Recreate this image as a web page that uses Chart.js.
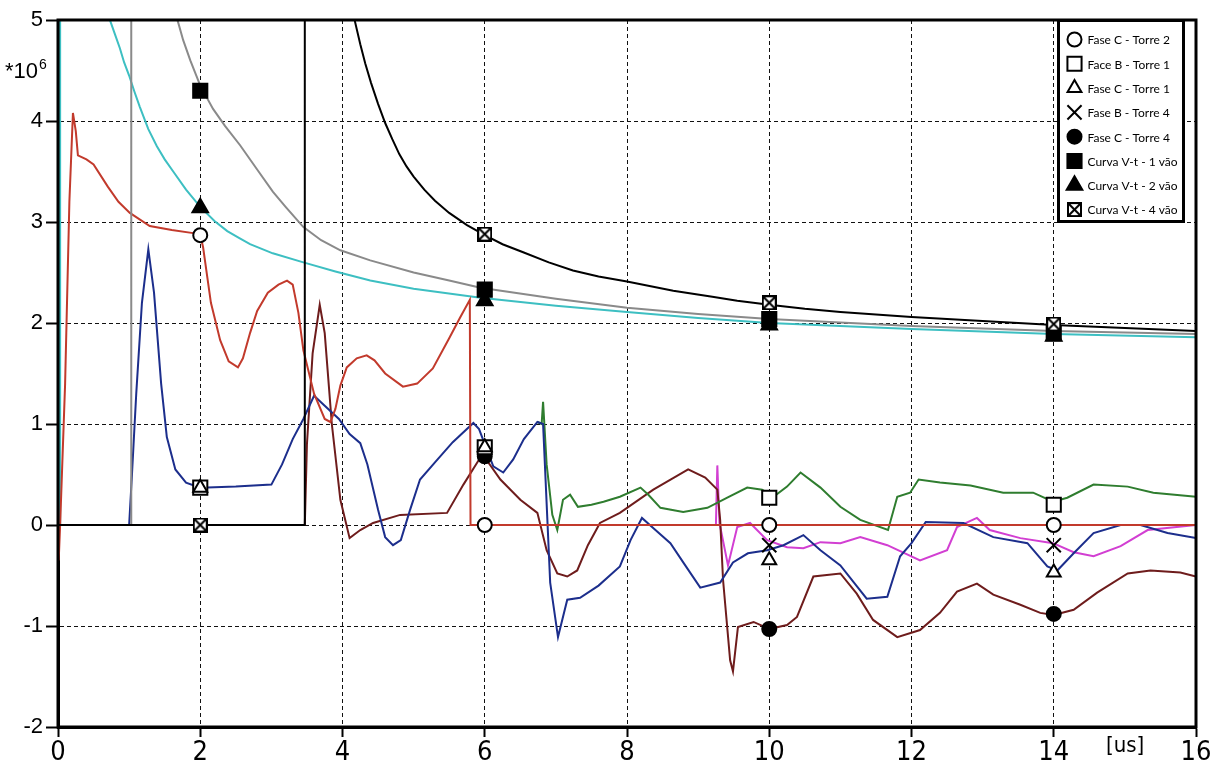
<!DOCTYPE html>
<html>
<head>
<meta charset="utf-8">
<script src="https://cdn.jsdelivr.net/npm/chart.js@4.4.1/dist/chart.umd.min.js"></script>
<style>
  html, body { margin: 0; padding: 0; background: #fff; }
  #chart { display: block; }
</style>
</head>
<body>
<canvas id="chart" width="1221" height="761"></canvas>
<script>
// --- Data (x in us, y in *10^6) -----------------------------------------------------------

// Fase C - Torre 2 (red)
const redX = [0, 0.01, 0.03, 0.1, 0.16, 0.21, 0.25, 0.28, 0.4, 0.5, 0.7, 0.85, 1.01, 1.29, 1.6, 1.9, 2.0, 2.04, 2.1, 2.15, 2.28, 2.4, 2.53, 2.6, 2.7, 2.8, 2.95, 3.1, 3.22, 3.3, 3.38, 3.45, 3.6, 3.75, 3.83, 3.9, 3.97, 4.06, 4.2, 4.34, 4.45, 4.6, 4.85, 5.05, 5.27, 5.5, 5.65, 5.79, 5.8, 16]
const redY = [0, -0.35, 0, 1.4, 3.2, 4.08, 3.9, 3.66, 3.62, 3.57, 3.35, 3.2, 3.09, 2.96, 2.92, 2.89, 2.87, 2.75, 2.45, 2.2, 1.83, 1.62, 1.56, 1.65, 1.9, 2.12, 2.3, 2.38, 2.42, 2.38, 2.1, 1.73, 1.3, 1.05, 1.02, 1.15, 1.38, 1.56, 1.65, 1.68, 1.63, 1.5, 1.37, 1.4, 1.55, 1.85, 2.05, 2.23, 0, 0]

// Fase C - Torre 1 (blue)
const blueX = [0, 1.0, 1.04, 1.1, 1.18, 1.27, 1.35, 1.45, 1.53, 1.65, 1.8, 2.0, 2.5, 3.0, 3.15, 3.3, 3.45, 3.6, 3.75, 3.95, 4.1, 4.25, 4.35, 4.5, 4.6, 4.71, 4.82, 4.95, 5.09, 5.3, 5.55, 5.84, 5.92, 6.0, 6.12, 6.26, 6.4, 6.55, 6.74, 6.82, 6.92, 7.03, 7.16, 7.34, 7.6, 7.9, 8.05, 8.21, 8.4, 8.61, 8.8, 9.03, 9.31, 9.49, 9.7, 9.97, 10.2, 10.48, 10.72, 11.0, 11.37, 11.66, 11.84, 12.0, 12.2, 12.73, 13.15, 13.63, 13.91, 14.05, 14.28, 14.56, 14.94, 15.22, 15.6, 16]
const blueY = [0, 0, 0.5, 1.3, 2.2, 2.73, 2.3, 1.4, 0.87, 0.55, 0.42, 0.37, 0.38, 0.4, 0.6, 0.85, 1.05, 1.28, 1.18, 1.05, 0.9, 0.81, 0.6, 0.15, -0.12, -0.2, -0.15, 0.15, 0.45, 0.62, 0.82, 1.01, 0.95, 0.8, 0.58, 0.52, 0.65, 0.85, 1.02, 1.0, -0.57, -1.11, -0.74, -0.72, -0.6, -0.41, -0.15, 0.07, -0.05, -0.18, -0.38, -0.62, -0.57, -0.37, -0.28, -0.25, -0.2, -0.1, -0.25, -0.4, -0.73, -0.71, -0.31, -0.18, 0.03, 0.02, -0.12, -0.18, -0.41, -0.45, -0.28, -0.08, 0, 0, -0.08, -0.13]

// Face B - Torre 1 (green, runs under the blue trace until ~6.8 us)
const greenX = [6.74, 6.8, 6.82, 6.87, 6.95, 7.02, 7.1, 7.2, 7.31, 7.5, 7.67, 7.9, 8.19, 8.3, 8.47, 8.79, 9.13, 9.41, 9.69, 9.9, 10.06, 10.25, 10.44, 10.72, 11.0, 11.28, 11.67, 11.8, 11.98, 12.1, 12.4, 12.83, 13.29, 13.71, 13.99, 14.19, 14.56, 15.04, 15.4, 16]
const greenY = [1.02, 1.0, 1.22, 0.6, 0.1, -0.05, 0.25, 0.3, 0.18, 0.2, 0.23, 0.28, 0.37, 0.3, 0.17, 0.13, 0.17, 0.27, 0.37, 0.35, 0.28, 0.38, 0.52, 0.37, 0.18, 0.05, -0.05, 0.28, 0.32, 0.45, 0.42, 0.39, 0.32, 0.32, 0.23, 0.27, 0.4, 0.38, 0.32, 0.28]

// Fase C - Torre 4 (maroon)
const maroonX = [0, 3.47, 3.5, 3.58, 3.68, 3.75, 3.85, 3.97, 4.1, 4.25, 4.43, 4.81, 5.47, 5.7, 5.94, 6.05, 6.22, 6.5, 6.74, 6.87, 7.02, 7.16, 7.3, 7.45, 7.62, 7.9, 8.37, 8.86, 9.1, 9.27, 9.31, 9.35, 9.45, 9.49, 9.56, 9.78, 10.0, 10.25, 10.39, 10.62, 11.0, 11.23, 11.46, 11.8, 12.12, 12.4, 12.64, 12.92, 13.15, 13.53, 13.81, 14.0, 14.28, 14.61, 15.04, 15.36, 15.78, 16]
const maroonY = [0, 0, 0.8, 1.7, 2.18, 1.9, 1.0, 0.25, -0.13, -0.05, 0.02, 0.1, 0.12, 0.4, 0.67, 0.62, 0.45, 0.25, 0.12, -0.25, -0.48, -0.51, -0.45, -0.2, 0.02, 0.12, 0.35, 0.55, 0.47, 0.35, 0.05, -0.54, -1.34, -1.45, -1.01, -0.96, -1.03, -0.99, -0.91, -0.51, -0.48, -0.68, -0.94, -1.11, -1.04, -0.87, -0.66, -0.58, -0.69, -0.79, -0.87, -0.89, -0.84, -0.67, -0.48, -0.45, -0.47, -0.51]

// Fase B - Torre 4 (magenta, hidden under the red zero line before ~9.25 us)
const magentaX = [9.25, 9.27, 9.3, 9.42, 9.55, 9.73, 9.97, 10.25, 10.48, 10.72, 11.0, 11.28, 11.66, 12.12, 12.5, 12.64, 12.92, 13.1, 13.53, 13.99, 14.28, 14.56, 14.94, 15.32, 16]
const magentaY = [0, 0.59, 0.02, -0.4, -0.02, 0.02, -0.15, -0.22, -0.23, -0.17, -0.18, -0.12, -0.2, -0.35, -0.25, -0.02, 0.07, -0.05, -0.13, -0.18, -0.27, -0.31, -0.21, -0.05, 0]

// Curva V-t - 1 vao (gray)
const vt1X = [1.03, 1.03, 1.68, 1.76, 1.86, 2.0, 2.18, 2.35, 2.56, 2.8, 3.02, 3.2, 3.45, 3.7, 3.97, 4.39, 5.0, 5.5, 5.94, 7.0, 8.0, 9.0, 10, 12, 14, 16]
const vt1Y = [0, 40, 5.0, 4.8, 4.6, 4.35, 4.12, 3.95, 3.76, 3.52, 3.3, 3.15, 2.95, 2.82, 2.72, 2.62, 2.5, 2.42, 2.35, 2.24, 2.15, 2.09, 2.04, 1.97, 1.92, 1.89]

// Curva V-t - 2 vaos (cyan)
const vt2X = [0.03, 0.03, 0.73, 0.8, 0.87, 0.93, 1.0, 1.07, 1.15, 1.27, 1.39, 1.5, 1.62, 1.8, 2.0, 2.2, 2.38, 2.55, 2.7, 3.02, 3.45, 3.9, 4.39, 5.0, 5.94, 7.0, 8.0, 9.0, 10, 12, 14, 16]
const vt2Y = [0, 40, 5.0, 4.86, 4.72, 4.58, 4.45, 4.3, 4.14, 3.92, 3.75, 3.62, 3.5, 3.32, 3.15, 3.01, 2.91, 2.84, 2.78, 2.69, 2.6, 2.51, 2.42, 2.34, 2.25, 2.17, 2.11, 2.05, 2.0, 1.94, 1.89, 1.86]

// Curva V-t - 4 vaos (black)
const vt4X = [0, 3.47, 3.47, 4.17, 4.25, 4.32, 4.4, 4.5, 4.6, 4.7, 4.8, 4.9, 5.0, 5.15, 5.3, 5.5, 5.75, 6.0, 6.25, 6.54, 6.9, 7.24, 7.6, 8.0, 8.65, 9.2, 9.55, 10, 10.5, 11, 12, 13, 14, 15, 16]
const vt4Y = [0, 0, 40, 5.0, 4.76, 4.57, 4.38, 4.17, 3.98, 3.82, 3.67, 3.55, 3.45, 3.32, 3.21, 3.09, 2.97, 2.87, 2.78, 2.7, 2.6, 2.52, 2.46, 2.41, 2.32, 2.26, 2.22, 2.18, 2.14, 2.11, 2.06, 2.02, 1.98, 1.95, 1.92]

// Markers at the sampling instants
const markTimes = [2, 6, 10, 14]
const circleOpenY = [2.87, 0, 0, 0]
const squareOpenY = [0.37, 0.77, 0.27, 0.2]
const triangleOpenY = [0.37, 0.77, -0.35, -0.47]
const crossX = [10, 14]
const crossY = [-0.2, -0.2]
const dotX = [6, 10, 14]
const dotY = [0.68, -1.03, -0.88]
const squareFilledY = [4.3, 2.33, 2.04, 1.9]
const triangleFilledY = [3.14, 2.22, 1.98, 1.87]
const crossedSquareY = [0, 2.88, 2.2, 1.99]

const xTicks = [0, 2, 4, 6, 8, 10, 12, 14, 16]
const yTicks = [-2, -1, 0, 1, 2, 3, 4, 5]


// --- Helpers --------------------------------------------------------------------------------
function pts(xs, ys) {
    return xs.map((x, i) => ({ x: x, y: ys[i] }))
}

// square with an X inside, used as an image point style
function makeCrossedSquare(size) {
    const c = document.createElement('canvas')
    c.width = size
    c.height = size
    const g = c.getContext('2d')
    g.fillStyle = '#fff'
    g.fillRect(1, 1, size - 2, size - 2)
    g.strokeStyle = '#000'
    g.lineWidth = 2
    g.strokeRect(1, 1, size - 2, size - 2)
    g.beginPath()
    g.moveTo(2, 2); g.lineTo(size - 2, size - 2)
    g.moveTo(size - 2, 2); g.lineTo(2, size - 2)
    g.stroke()
    return c
}
const crossedSquare = makeCrossedSquare(15)

function lineSet(label, xs, ys, color, order) {
    return {
        label: label,
        data: pts(xs, ys),
        showLine: true,
        borderColor: color,
        borderWidth: 2,
        pointRadius: 0,
        tension: 0,
        fill: false,
        order: order
    }
}

function markerSet(label, xs, ys, style, radius, filled, order) {
    return {
        label: label,
        data: pts(xs, ys),
        showLine: false,
        inLegend: true,
        pointStyle: style,
        pointRadius: radius,
        pointBackgroundColor: filled ? '#000' : '#fff',
        pointBorderColor: '#000',
        pointBorderWidth: 2,
        order: order
    }
}


// --- Plugins --------------------------------------------------------------------------------
// thick frame round the plot area
const frame = {
    id: 'frame',
    afterDatasetsDraw(chart) {
        const a = chart.chartArea
        const ctx = chart.ctx
        ctx.save()
        ctx.strokeStyle = '#000'
        ctx.lineWidth = 3
        ctx.strokeRect(a.left, a.top, a.right - a.left, a.bottom - a.top)
        ctx.restore()
    }
}

// boxed legend inside the top right corner, plus the unit labels
const boxLegend = {
    id: 'boxLegend',
    afterDraw(chart) {
        const ctx = chart.ctx
        const items = chart.data.datasets.filter(ds => ds.inLegend)
        const left = 1058.5, top = 20.5, w = 125, h = 201

        ctx.save()
        ctx.fillStyle = '#fff'
        ctx.fillRect(left, top, w, h)
        ctx.strokeStyle = '#000'
        ctx.lineWidth = 3
        ctx.strokeRect(left, top, w, h)

        items.forEach((ds, i) => {
            const y = top + 19 + i * 24.3
            ctx.fillStyle = ds.pointBackgroundColor
            ctx.strokeStyle = ds.pointBorderColor
            ctx.lineWidth = ds.pointBorderWidth
            Chart.helpers.drawPoint(ctx, {
                pointStyle: ds.pointStyle,
                radius: ds.pointRadius,
                borderWidth: ds.pointBorderWidth,
                rotation: 0
            }, left + 16, y)

            ctx.fillStyle = '#000'
            ctx.font = '12px Lato'
            ctx.textAlign = 'left'
            ctx.textBaseline = 'middle'
            ctx.fillText(ds.label, left + 29, y + 1)
        })

        // "*10^6" next to the y axis, "[us]" by the x axis
        ctx.fillStyle = '#000'
        ctx.textBaseline = 'alphabetic'
        ctx.font = '22px "Liberation Sans"'
        ctx.fillText('*10', 5, 78)
        const w10 = ctx.measureText('*10').width
        ctx.font = '14px "Liberation Sans"'
        ctx.fillText('6', 5 + w10 + 1, 69)
        ctx.font = '22px "Liberation Sans Narrow", "DejaVu Sans Condensed"'
        ctx.fillText('[us]', 1106, 752)
        ctx.restore()
    }
}


// --- Chart ----------------------------------------------------------------------------------
const datasets = [
    markerSet('Fase C - Torre 2', markTimes, circleOpenY, 'circle', 7, false, 3),
    markerSet('Face B - Torre 1', markTimes, squareOpenY, 'rect', 10, false, 2),
    markerSet('Fase C - Torre 1', markTimes, triangleOpenY, 'triangle', 8, false, 1),
    markerSet('Fase B - Torre 4', crossX, crossY, 'crossRot', 10, false, 0),
    markerSet('Fase C - Torre 4', dotX, dotY, 'circle', 7, true, 4),
    markerSet('Curva V-t - 1 vão', markTimes, squareFilledY, 'rect', 10, true, 5),
    markerSet('Curva V-t - 2 vão', markTimes, triangleFilledY, 'triangle', 9, true, 6),
    markerSet('Curva V-t - 4 vão', markTimes, crossedSquareY, crossedSquare, 8, false, 0),

    lineSet('vt4', vt4X, vt4Y, '#000000', 10),
    lineSet('vt1', vt1X, vt1Y, '#8a8a8a', 11),
    lineSet('red', redX, redY, '#c23a2c', 12),
    lineSet('blue', blueX, blueY, '#1c2e8c', 13),
    lineSet('green', greenX, greenY, '#2f7d2f', 14),
    lineSet('maroon', maroonX, maroonY, '#6e1c1c', 15),
    lineSet('magenta', magentaX, magentaY, '#d23fd2', 16),
    lineSet('vt2', vt2X, vt2Y, '#3dbfc2', 17)
]

new Chart(document.getElementById('chart'), {
    type: 'scatter',
    data: { datasets: datasets },
    options: {
        responsive: false,
        animation: false,
        devicePixelRatio: 1,
        layout: { padding: { top: 20, right: 25, left: 0, bottom: 0 } },
        plugins: {
            legend: { display: false },
            tooltip: { enabled: false }
        },
        scales: {
            x: {
                type: 'linear',
                min: 0,
                max: 16,
                afterBuildTicks: scale => { scale.ticks = xTicks.map(v => ({ value: v })) },
                afterFit: scale => { scale.height = 34 },
                ticks: {
                    color: '#000',
                    padding: 0,
                    maxRotation: 0,
                    font: { family: '"Liberation Sans Narrow", "DejaVu Sans Condensed"', size: 27 }
                },
                grid: {
                    color: '#111',
                    lineWidth: 1,
                    tickColor: '#000',
                    tickWidth: 2,
                    tickLength: 10
                },
                border: { color: '#000', width: 3, dash: [4, 3] }
            },
            y: {
                type: 'linear',
                min: -2,
                max: 5,
                afterBuildTicks: scale => { scale.ticks = yTicks.map(v => ({ value: v })) },
                afterFit: scale => { scale.width = 58 },
                ticks: {
                    color: '#000',
                    padding: 3,
                    font: { family: '"Liberation Sans"', size: 22 }
                },
                grid: {
                    color: '#111',
                    lineWidth: 1,
                    tickColor: '#000',
                    tickWidth: 2,
                    tickLength: 12
                },
                border: { color: '#000', width: 3, dash: [4, 3] }
            }
        }
    },
    plugins: [frame, boxLegend]
})
</script>
</body>
</html>
